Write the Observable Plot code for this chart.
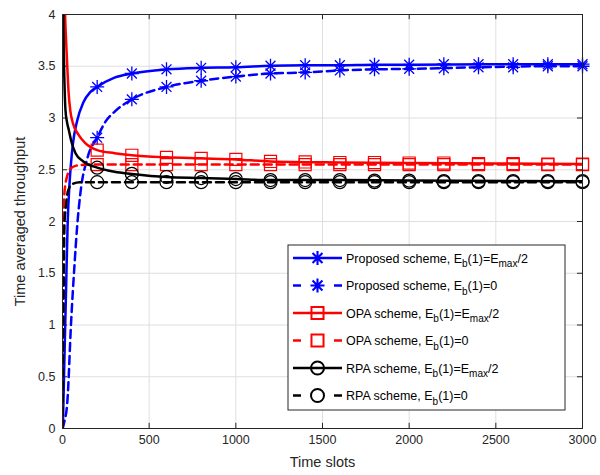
<!DOCTYPE html>
<html>
<head>
<meta charset="utf-8">
<script src="https://cdn.jsdelivr.net/npm/d3@7"></script>
<script src="https://cdn.jsdelivr.net/npm/@observablehq/plot@0.6"></script>
<style>
  body { margin: 0; background: #fff; }
  #chart svg { display: block; }
</style>
</head>
<body>
<div id="chart"></div>
<script>
// ---- data ----
const xTicks = [0, 500, 1000, 1500, 2000, 2500, 3000];
const yTicks = [0, 0.5, 1, 1.5, 2, 2.5, 3, 3.5, 4];
const markerX = [200, 400, 600, 800, 1000, 1200, 1400, 1600, 1800, 2000, 2200, 2400, 2600, 2800, 3000];

const propHalfX = [2, 10, 20, 30, 40, 50, 60, 84, 120, 160, 200, 300, 400, 600, 800, 1000, 1200, 1400, 1600, 1800, 2000, 2500, 3000];
const propHalfY = [0, 0.6, 1.3, 2.0, 2.35, 2.58, 2.75, 2.97, 3.15, 3.25, 3.30, 3.39, 3.43, 3.47, 3.485, 3.49, 3.505, 3.51, 3.51, 3.515, 3.515, 3.52, 3.52];
const propZeroX = [0, 10, 28, 50, 70, 84, 103, 145, 200, 250, 300, 400, 600, 800, 1000, 1200, 1400, 1600, 1800, 2000, 2400, 2800, 3000];
const propZeroY = [0, 0.06, 0.26, 1.04, 1.6, 1.94, 2.27, 2.62, 2.81, 2.97, 3.06, 3.18, 3.30, 3.36, 3.40, 3.43, 3.44, 3.46, 3.47, 3.475, 3.49, 3.50, 3.50];
const opaHalfX = [12, 15, 18, 22, 27, 35, 46, 60, 92, 130, 200, 300, 400, 600, 800, 1000, 1200, 1600, 2000, 2500, 3000];
const opaHalfY = [4.3, 4.0, 3.85, 3.7, 3.52, 3.25, 3.06, 2.95, 2.84, 2.76, 2.69, 2.66, 2.64, 2.62, 2.61, 2.60, 2.58, 2.57, 2.565, 2.56, 2.555];
const opaZeroX = [0, 3, 6, 10, 17, 27, 46, 80, 150, 300, 600, 1000, 2000, 3000];
const opaZeroY = [0, 1.0, 2.0, 2.25, 2.36, 2.44, 2.51, 2.54, 2.55, 2.55, 2.55, 2.55, 2.55, 2.55];
const rpaHalfX = [3, 5, 8, 12, 17, 25, 37, 50, 75, 120, 200, 300, 400, 600, 800, 1000, 1200, 1600, 2000, 3000];
const rpaHalfY = [4.3, 4.0, 3.6, 3.3, 3.08, 2.97, 2.88, 2.78, 2.66, 2.58, 2.52, 2.48, 2.46, 2.43, 2.42, 2.41, 2.40, 2.40, 2.395, 2.39];
const rpaZeroX = [0, 5, 12, 20, 27, 40, 56, 100, 200, 500, 1000, 2000, 3000];
const rpaZeroY = [0, 1.0, 2.0, 2.15, 2.26, 2.33, 2.36, 2.38, 2.38, 2.38, 2.38, 2.38, 2.38];

const mPropHalf = [3.30, 3.43, 3.47, 3.485, 3.49, 3.505, 3.51, 3.51, 3.515, 3.515, 3.52, 3.52, 3.52, 3.52, 3.52];
const mPropZero = [2.81, 3.18, 3.30, 3.36, 3.40, 3.43, 3.44, 3.46, 3.47, 3.475, 3.48, 3.49, 3.49, 3.50, 3.50];
const mOpaHalf  = [2.69, 2.64, 2.62, 2.61, 2.60, 2.58, 2.575, 2.57, 2.57, 2.565, 2.565, 2.56, 2.56, 2.555, 2.555];
const mOpaZero  = [2.55, 2.55, 2.55, 2.55, 2.55, 2.55, 2.55, 2.55, 2.55, 2.55, 2.55, 2.55, 2.55, 2.55, 2.55];
const mRpaHalf  = [2.52, 2.46, 2.43, 2.42, 2.41, 2.40, 2.40, 2.40, 2.395, 2.395, 2.39, 2.39, 2.39, 2.39, 2.39];
const mRpaZero  = [2.38, 2.38, 2.38, 2.38, 2.38, 2.38, 2.38, 2.38, 2.38, 2.38, 2.38, 2.38, 2.38, 2.38, 2.38];

// ---- helpers ----
const pts = (xs, ys) => xs.map((x, i) => ({x, y: ys[i]}));
const star8 = {
  draw(ctx, size) {
    const r = Math.sqrt(size / Math.PI);
    const d = r * Math.SQRT1_2;
    ctx.moveTo(-r, 0); ctx.lineTo(r, 0);
    ctx.moveTo(0, -r); ctx.lineTo(0, r);
    ctx.moveTo(-d, -d); ctx.lineTo(d, d);
    ctx.moveTo(-d, d); ctx.lineTo(d, -d);
  }
};
const BLUE = "#0000ff", RED = "#ff0000", BLACK = "#000000", AX = "#262626";
const DASH = "8,5";
const FONT = "'Liberation Sans', Arial, Helvetica, sans-serif";

const series = [
  {xs: propHalfX, ys: propHalfY, m: mPropHalf, color: BLUE, dash: null, sym: star8, r: 7, sw: 1.3},
  {xs: propZeroX, ys: propZeroY, m: mPropZero, color: BLUE, dash: DASH, sym: star8, r: 7, sw: 1.3},
  {xs: opaHalfX, ys: opaHalfY, m: mOpaHalf, color: RED, dash: null, sym: "square", r: 6.8, sw: 1.2},
  {xs: opaZeroX, ys: opaZeroY, m: mOpaZero, color: RED, dash: DASH, sym: "square", r: 6.8, sw: 1.2},
  {xs: rpaHalfX, ys: rpaHalfY, m: mRpaHalf, color: BLACK, dash: null, sym: "circle", r: 6.5, sw: 1.2},
  {xs: rpaZeroX, ys: rpaZeroY, m: mRpaZero, color: BLACK, dash: DASH, sym: "circle", r: 6.5, sw: 1.2}
];

const seriesMarks = series.flatMap(s => [
  Plot.line(pts(s.xs, s.ys), {x: "x", y: "y", stroke: s.color, strokeWidth: 2.5,
    strokeDasharray: s.dash, curve: "monotone-x", clip: true}),
  Plot.dot(pts(markerX, s.m), {x: "x", y: "y", symbol: s.sym, r: s.r, stroke: s.color,
    fill: "none", strokeWidth: s.sw})
]);

const fmt = d => String(d);

const chart = Plot.plot({
  width: 600,
  height: 475,
  marginLeft: 62,
  marginRight: 18,
  marginTop: 14,
  marginBottom: 47,
  style: {fontFamily: FONT, fontSize: "12.5px", color: AX, background: "#fff"},
  x: {domain: [0, 3000]},
  y: {domain: [0, 4]},
  marks: [
    Plot.gridX(xTicks, {stroke: "#dfdfdf", strokeOpacity: 1, strokeWidth: 1}),
    Plot.gridY(yTicks, {stroke: "#dfdfdf", strokeOpacity: 1, strokeWidth: 1}),
    Plot.axisX({ticks: xTicks, tickFormat: fmt, tickSize: 0, tickPadding: 7, label: null, fill: AX, fontSize: 12.5}),
    Plot.axisY({ticks: yTicks, tickFormat: fmt, tickSize: 0, tickPadding: 7, label: null, fill: AX, fontSize: 12.5}),
    Plot.axisX({ticks: [], label: "Time slots", labelAnchor: "center", labelArrow: "none", labelOffset: 38, fontSize: 14.5, fill: AX}),
    Plot.axisY({ticks: [], label: "Time averaged throughput", labelAnchor: "center", labelArrow: "none", labelOffset: 48, fontSize: 14.5, fill: AX}),
    Plot.ruleX(xTicks, {x: d => d, y1: 0, y2: 0.05, stroke: AX}),
    Plot.ruleX(xTicks, {x: d => d, y1: 3.95, y2: 4, stroke: AX}),
    Plot.ruleY(yTicks, {y: d => d, x1: 0, x2: 29, stroke: AX}),
    Plot.ruleY(yTicks, {y: d => d, x1: 2971, x2: 3000, stroke: AX}),
    ...seriesMarks,
    Plot.frame({stroke: AX, strokeWidth: 1})
  ]
});
document.getElementById("chart").appendChild(chart);

// ---- legend (inside plot, drawn onto the SVG) ----
const svg = d3.select(chart);
const lg = svg.append("g").attr("font-family", FONT).attr("font-size", 12.5)
  .attr("fill", "#000").attr("text-anchor", "start");
const box = {x: 288, y: 245, w: 277, h: 165};
lg.append("rect").attr("x", box.x).attr("y", box.y).attr("width", box.w).attr("height", box.h)
  .attr("fill", "#fff").attr("stroke", AX).attr("stroke-width", 1);
const labels = [
  ["Proposed scheme, E", "b", "(1)=E", "max", "/2"],
  ["Proposed scheme, E", "b", "(1)=0"],
  ["OPA scheme, E", "b", "(1)=E", "max", "/2"],
  ["OPA scheme, E", "b", "(1)=0"],
  ["RPA scheme, E", "b", "(1)=E", "max", "/2"],
  ["RPA scheme, E", "b", "(1)=0"]
];
series.forEach((s, i) => {
  const cy = 258 + i * 27.5;
  const g = lg.append("g");
  if (s.dash) {
    g.append("line").attr("x1", 293).attr("x2", 301).attr("y1", cy).attr("y2", cy).attr("stroke", s.color).attr("stroke-width", 2.5);
    g.append("line").attr("x1", 334).attr("x2", 342).attr("y1", cy).attr("y2", cy).attr("stroke", s.color).attr("stroke-width", 2.5);
  } else {
    g.append("line").attr("x1", 293).attr("x2", 342).attr("y1", cy).attr("y2", cy).attr("stroke", s.color).attr("stroke-width", 2.5);
  }
  const symType = s.sym === "square" ? d3.symbolSquare : s.sym === "circle" ? d3.symbolCircle : star8;
  g.append("path").attr("transform", `translate(317.5,${cy})`)
    .attr("d", d3.symbol(symType, s.r * s.r * Math.PI)())
    .attr("fill", "none").attr("stroke", s.color).attr("stroke-width", s.sw + 0.8);
  const t = g.append("text").attr("x", 346).attr("y", cy + 4.5);
  labels[i].forEach((p, k) => {
    const ts = t.append("tspan").text(p);
    if (k % 2 === 1) ts.attr("font-size", 10).attr("dy", 4.5);
    else if (k > 0) ts.attr("dy", -4.5);
  });
});
</script>
</body>
</html>
